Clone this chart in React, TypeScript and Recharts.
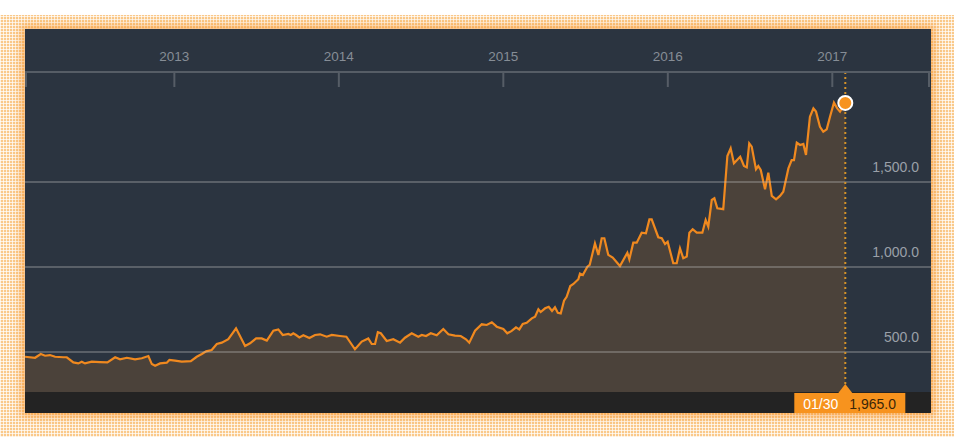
import React from 'react';
import { AreaChart, Area, XAxis, YAxis, ReferenceLine, ReferenceDot } from 'recharts';

// weekly-ish closes, date as decimal year
const dates = [
  2012.092, 2012.153, 2012.188, 2012.214, 2012.244, 2012.275, 2012.325, 2012.346, 2012.386, 2012.416,
  2012.437, 2012.457, 2012.498, 2012.548, 2012.593, 2012.640, 2012.670, 2012.711, 2012.761, 2012.802,
  2012.842, 2012.863, 2012.883, 2012.913, 2012.954, 2012.970, 2013.004, 2013.045, 2013.100, 2013.136,
  2013.167, 2013.193, 2013.227, 2013.258, 2013.288, 2013.328, 2013.375, 2013.430, 2013.460, 2013.497,
  2013.531, 2013.562, 2013.602, 2013.632, 2013.659, 2013.693, 2013.708, 2013.723, 2013.740, 2013.760,
  2013.784, 2013.821, 2013.855, 2013.886, 2013.926, 2013.957, 2014.007, 2014.046, 2014.098, 2014.139,
  2014.179, 2014.200, 2014.220, 2014.237, 2014.255, 2014.291, 2014.331, 2014.372, 2014.402, 2014.443,
  2014.483, 2014.504, 2014.530, 2014.559, 2014.595, 2014.635, 2014.666, 2014.706, 2014.741, 2014.773,
  2014.793, 2014.828, 2014.869, 2014.899, 2014.930, 2014.960, 2015.000, 2015.024, 2015.051, 2015.077,
  2015.097, 2015.118, 2015.142, 2015.173, 2015.193, 2015.213, 2015.227, 2015.254, 2015.276, 2015.296,
  2015.314, 2015.331, 2015.349, 2015.369, 2015.385, 2015.407, 2015.426, 2015.456, 2015.466, 2015.483,
  2015.511, 2015.525, 2015.557, 2015.578, 2015.598, 2015.614, 2015.638, 2015.665, 2015.709, 2015.754,
  2015.766, 2015.790, 2015.811, 2015.841, 2015.867, 2015.888, 2015.902, 2015.942, 2015.963, 2015.983,
  2015.999, 2016.033, 2016.054, 2016.074, 2016.094, 2016.115, 2016.131, 2016.151, 2016.176, 2016.210,
  2016.230, 2016.246, 2016.267, 2016.283, 2016.301, 2016.337, 2016.362, 2016.382, 2016.402, 2016.440,
  2016.463, 2016.480, 2016.495, 2016.510, 2016.536, 2016.550, 2016.565, 2016.591, 2016.611, 2016.632,
  2016.658, 2016.682, 2016.702, 2016.733, 2016.753, 2016.767, 2016.784, 2016.804, 2016.824, 2016.840,
  2016.864, 2016.885, 2016.901, 2016.925, 2016.945, 2016.966, 2016.986, 2017.010, 2017.030, 2017.047,
  2017.079,
];

const prices = [
  472, 466, 488, 478, 482, 472, 469, 469, 439, 433,
  443, 433, 443, 441, 439, 469, 457, 466, 457, 463,
  476, 429, 419, 433, 437, 453, 449, 443, 446, 472,
  488, 504, 512, 547, 555, 575, 639, 535, 551, 580,
  580, 567, 625, 633, 600, 606, 600, 610, 600, 586,
  598, 582, 600, 604, 590, 600, 594, 590, 516, 561,
  580, 547, 547, 616, 610, 565, 575, 555, 584, 610,
  590, 600, 594, 610, 598, 635, 604, 596, 594, 575,
  555, 625, 663, 659, 675, 649, 635, 610, 624, 645,
  633, 665, 672, 698, 708, 751, 735, 757, 766, 741,
  763, 731, 727, 802, 825, 888, 900, 928, 961, 953,
  1002, 1012, 1139, 1071, 1169, 1169, 1071, 1055, 1006, 1084,
  1045, 1143, 1143, 1202, 1198, 1280, 1280, 1175, 1169, 1135,
  1149, 1022, 1022, 1110, 1051, 1061, 1202, 1222, 1202, 1202,
  1276, 1237, 1394, 1404, 1345, 1340, 1653, 1698, 1610, 1648,
  1594, 1586, 1727, 1708, 1575, 1594, 1571, 1457, 1555, 1418,
  1398, 1418, 1443, 1580, 1629, 1629, 1731, 1718, 1724, 1659,
  1884, 1933, 1914, 1825, 1796, 1810, 1884, 1967, 1933, 1914,
  1965,
];

const yearTicks = [2013, 2014, 2015, 2016, 2017];
const priceTicks = [500, 1000, 1500];
const lastDateLabel = '01/30';

const X_MIN = 2012.092;
const X_MAX = 2017.6;
const Y_MIN = 264.7;
const Y_MAX = 2147;

const FONT = '"Liberation Sans", Arial, sans-serif';
const ORANGE = '#f0891f';

const data = dates.map((t, i) => ({ t, price: prices[i] }));
const last = data[data.length - 1];

const fmtPrice = (v: number) =>
  v.toLocaleString('en-US', { minimumFractionDigits: 1, maximumFractionDigits: 1 });

const YearTick = (props: any) => {
  const { x, y, payload } = props;
  const v = payload.value;
  const isYear = Number.isInteger(v);
  let lx = x;
  if (v === X_MIN) lx = x + 1;
  if (v === X_MAX) lx = x - 2;
  return (
    <g>
      <line x1={lx} y1={y} x2={lx} y2={y + 15} stroke="#565d66" strokeWidth={2} />
      {isYear && (
        <text x={x} y={y - 11} textAnchor="middle" fill="#868d96" fontSize={13.5} fontFamily={FONT}>
          {v}
        </text>
      )}
    </g>
  );
};

const PriceLabel = (props: any) => {
  const vb = props.viewBox || {};
  return (
    <text x={vb.x + vb.width - 12} y={vb.y - 10} textAnchor="end" fill="#9aa0a8" fontSize={14} fontFamily={FONT}>
      {fmtPrice(props.value)}
    </text>
  );
};

const EndLabel = (props: any) => {
  const vb = props.viewBox || {};
  const x = vb.x;
  const bottom = vb.y + vb.height;
  return (
    <g>
      <polygon points={`${x - 7},${bottom + 1} ${x},${bottom - 8} ${x + 7},${bottom + 1}`} fill="#f7931e" />
      <rect x={x - 51} y={bottom + 1} width={111} height={20} fill="#f7931e" />
      <text x={x - 42} y={bottom + 17} fill="#ffffff" fontSize={14} fontFamily={FONT}>
        {lastDateLabel}
      </text>
      <text x={x + 4} y={bottom + 17} fill="#3b2608" fontSize={14} fontFamily={FONT}>
        {fmtPrice(last.price)}
      </text>
    </g>
  );
};

const App: React.FC = () => {
  return (
    <div style={{ position: 'absolute', left: 0, top: 0, width: 959, height: 442, background: '#fff', overflow: 'hidden' }}>
      <div
        style={{
          position: 'absolute',
          left: 0,
          top: 15,
          width: 954,
          height: 422,
          backgroundColor: '#fac98a',
          backgroundImage:
            'repeating-linear-gradient(90deg, rgba(255,255,255,0.72) 0 1px, transparent 1px 3px), repeating-linear-gradient(0deg, rgba(255,255,255,0.72) 0 1px, transparent 1px 3px)',
        }}
      />
      <div
        style={{
          position: 'absolute',
          left: 25,
          top: 29,
          width: 906,
          height: 384,
          background: '#2b3440',
          boxShadow: '0 0 8px 4px rgba(246,140,30,0.55)',
        }}
      >
        <div style={{ position: 'absolute', left: 0, top: 363, width: 906, height: 21, background: '#232323' }} />
      </div>
      <div style={{ position: 'absolute', left: 0, top: 0 }}>
        <AreaChart width={959} height={442} data={data} margin={{ top: 42, right: 28, left: 25, bottom: 50 }}>
          <XAxis
            dataKey="t"
            type="number"
            orientation="top"
            domain={[X_MIN, X_MAX]}
            allowDataOverflow
            ticks={[X_MIN, ...yearTicks, X_MAX]}
            interval={0}
            height={30}
            tickSize={0}
            tickMargin={0}
            tickLine={false}
            axisLine={{ stroke: '#565d66', strokeWidth: 2 }}
            tick={<YearTick />}
          />
          <YAxis type="number" domain={[Y_MIN, Y_MAX]} allowDataOverflow hide />
          {priceTicks.map((v) => (
            <ReferenceLine
              key={v}
              y={v}
              stroke="#c8c8c8"
              strokeOpacity={0.3}
              strokeWidth={2}
              label={<PriceLabel value={v} />}
            />
          ))}
          <Area
            type="linear"
            dataKey="price"
            stroke={ORANGE}
            strokeWidth={2.2}
            fill={ORANGE}
            fillOpacity={0.17}
            baseValue="dataMin"
            dot={false}
            activeDot={false}
            isAnimationActive={false}
          />
          <ReferenceLine
            x={last.t}
            stroke="#d4922a"
            strokeWidth={2}
            strokeDasharray="2 3"
            label={<EndLabel />}
          />
          <ReferenceDot x={last.t} y={last.price} r={7} fill="#f7931e" stroke="#ffffff" strokeWidth={2} />
        </AreaChart>
      </div>
    </div>
  );
};

export default App;
